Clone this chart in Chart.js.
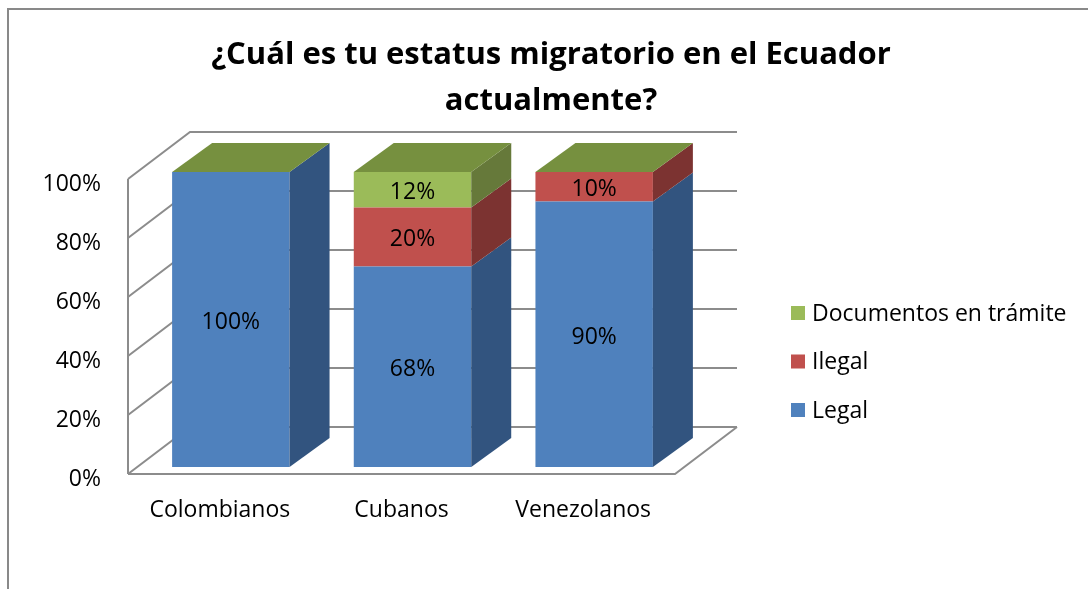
<!DOCTYPE html>
<html>
<head>
<meta charset="utf-8">
<script src="https://cdn.jsdelivr.net/npm/chart.js@4.4.1/dist/chart.umd.min.js"></script>
<style>
    html, body { margin: 0; padding: 0; background: #fff; }
    #wrap { position: relative; width: 1088px; height: 589px; }
</style>
</head>
<body>
<div id="wrap"><canvas id="chart"></canvas></div>
<script>
// Datos del gráfico
const titleLines = ["¿Cuál es tu estatus migratorio en el Ecuador", "actualmente?"];
const categories = ["Colombianos", "Cubanos", "Venezolanos"];
const legal = [100, 68, 90];
const ilegal = [0, 20, 10];
const enTramite = [0, 12, 0];
const yTicks = [0, 20, 40, 60, 80, 100];

const FONT = "'Open Sans', Lato, sans-serif";
const GRID = "#8c8c8c";
// profundidad de las barras y de las paredes (vista 3D)
const BAR_DX = 40, BAR_DY = -29;
const WALL_DX = 62, WALL_DY = -47;

const excel3d = {
    id: "excel3d",
    beforeDraw(chart) {
        const ctx = chart.ctx;
        ctx.save();
        ctx.fillStyle = "#fff";
        ctx.fillRect(0, 0, chart.width, chart.height);
        // marco del gráfico
        ctx.strokeStyle = "#898989";
        ctx.lineWidth = 2;
        ctx.beginPath();
        ctx.moveTo(8, chart.height);
        ctx.lineTo(8, 9);
        ctx.lineTo(chart.width, 9);
        ctx.stroke();
        ctx.restore();
    },
    beforeDatasetsDraw(chart) {
        const ctx = chart.ctx;
        const y = chart.scales.y;
        const area = chart.chartArea;
        const fx0 = area.left - 12, fx1 = area.right - 10;
        const wallY = v => y.getPixelForValue(v) + 7;
        ctx.save();
        ctx.strokeStyle = GRID;
        ctx.lineWidth = 2;
        ctx.beginPath();
        // arista frontal de la pared izquierda
        ctx.moveTo(fx0, wallY(0));
        ctx.lineTo(fx0, wallY(100));
        yTicks.forEach(v => {
            const wy = wallY(v);
            ctx.moveTo(fx0, wy);
            ctx.lineTo(fx0 + WALL_DX, wy + WALL_DY);
            ctx.lineTo(fx1 + WALL_DX, wy + WALL_DY);
        });
        // suelo
        ctx.moveTo(fx0, wallY(0));
        ctx.lineTo(fx1, wallY(0));
        ctx.lineTo(fx1 + WALL_DX, wallY(0) + WALL_DY);
        ctx.stroke();
        ctx.restore();
    },
    afterDatasetsDraw(chart) {
        const ctx = chart.ctx;
        const sets = chart.data.datasets;
        ctx.save();
        // caras laterales
        sets.forEach((ds, i) => {
            chart.getDatasetMeta(i).data.forEach((bar, j) => {
                if (!ds.data[j]) return;
                const xr = bar.x + bar.width / 2;
                ctx.fillStyle = ds.sideColor;
                ctx.beginPath();
                ctx.moveTo(xr, bar.y);
                ctx.lineTo(xr + BAR_DX, bar.y + BAR_DY);
                ctx.lineTo(xr + BAR_DX, bar.base + BAR_DY);
                ctx.lineTo(xr, bar.base);
                ctx.closePath();
                ctx.fill();
            });
        });
        // caras superiores (color de la última serie, como en Excel)
        const top = sets[sets.length - 1].topColor;
        chart.getDatasetMeta(0).data.forEach((bar, j) => {
            let yt = bar.y;
            sets.forEach((ds, i) => {
                if (ds.data[j]) yt = Math.min(yt, chart.getDatasetMeta(i).data[j].y);
            });
            const xl = bar.x - bar.width / 2, xr = bar.x + bar.width / 2;
            ctx.fillStyle = top;
            ctx.beginPath();
            ctx.moveTo(xl, yt);
            ctx.lineTo(xl + BAR_DX, yt + BAR_DY);
            ctx.lineTo(xr + BAR_DX, yt + BAR_DY);
            ctx.lineTo(xr, yt);
            ctx.closePath();
            ctx.fill();
        });
        // etiquetas de datos
        ctx.fillStyle = "#000";
        ctx.font = "23px " + FONT;
        ctx.textAlign = "center";
        ctx.textBaseline = "middle";
        sets.forEach((ds, i) => {
            chart.getDatasetMeta(i).data.forEach((bar, j) => {
                const v = ds.data[j];
                if (!v) return;
                ctx.fillText(v + "%", bar.x, (bar.y + bar.base) / 2 + 3);
            });
        });
        ctx.restore();
    },
    afterDraw(chart) {
        const ctx = chart.ctx;
        const y = chart.scales.y;
        const area = chart.chartArea;
        ctx.save();
        ctx.fillStyle = "#000";
        // etiquetas del eje Y
        ctx.font = "23px " + FONT;
        ctx.textAlign = "right";
        ctx.textBaseline = "middle";
        yTicks.forEach(v => {
            ctx.fillText(v + "%", area.left - 39, y.getPixelForValue(v) + 12);
        });
        // categorías
        ctx.textAlign = "center";
        chart.getDatasetMeta(0).data.forEach((bar, j) => {
            ctx.fillText(categories[j], bar.x - 11, 510);
        });
        // leyenda (orden inverso)
        ctx.textAlign = "left";
        const sets = chart.data.datasets.slice().reverse();
        sets.forEach((ds, k) => {
            const ly = 313 + k * 48.5;
            ctx.fillStyle = ds.backgroundColor;
            ctx.fillRect(791, ly - 7, 14, 14);
            ctx.fillStyle = "#000";
            ctx.fillText(ds.label, 812, ly + 1);
        });
        // título
        ctx.font = "bold 31px " + FONT;
        ctx.textAlign = "center";
        ctx.textBaseline = "alphabetic";
        ctx.fillText(titleLines[0], 551, 64);
        ctx.fillText(titleLines[1], 551, 110);
        ctx.restore();
    }
};

const ctx = document.getElementById("chart").getContext("2d");
new Chart(ctx, {
    type: "bar",
    data: {
        labels: categories,
        datasets: [
            { label: "Legal", data: legal, backgroundColor: "#4F81BD", sideColor: "#32547F", topColor: "#3A5F8E" },
            { label: "Ilegal", data: ilegal, backgroundColor: "#C0504D", sideColor: "#7C3331", topColor: "#8E3A38" },
            { label: "Documentos en trámite", data: enTramite, backgroundColor: "#9BBB59", sideColor: "#66793A", topColor: "#76903F" }
        ]
    },
    options: {
        responsive: true,
        maintainAspectRatio: false,
        animation: false,
        layout: { padding: { left: 140, right: 403, top: 172, bottom: 122 } },
        datasets: {
            bar: { barPercentage: 0.6465, categoryPercentage: 1, borderWidth: 0 }
        },
        scales: {
            x: { stacked: true, display: false },
            y: { stacked: true, display: false, min: 0, max: 100 }
        },
        plugins: {
            legend: { display: false },
            tooltip: { enabled: false }
        }
    },
    plugins: [excel3d]
});
</script>
</body>
</html>
